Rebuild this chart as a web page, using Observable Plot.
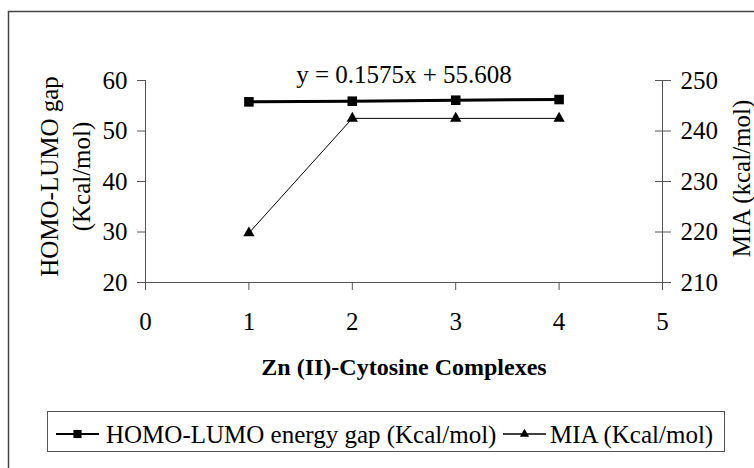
<!DOCTYPE html>
<html><head><meta charset="utf-8">
<script src="https://cdn.jsdelivr.net/npm/d3@7"></script>
<script src="https://cdn.jsdelivr.net/npm/@observablehq/plot@0.6"></script>
<style>
html,body{margin:0;padding:0;background:#fff;}
#chart{width:754px;height:468px;overflow:hidden;}
</style>
</head><body><div id="chart"></div>
<script>
// ---- data ----
const complexes = [1, 2, 3, 4];
const homoLumoGap = [55.77, 55.90, 56.10, 56.23];
const mia = [219.8, 242.5, 242.5, 242.5];
const leftTicks = [20, 30, 40, 50, 60];
const rightTicks = [210, 220, 230, 240, 250];
const xTicks = [0, 1, 2, 3, 4, 5];
const seriesNames = ["HOMO-LUMO energy gap (Kcal/mol)", "MIA (Kcal/mol)"];
const equation = ["y = 0.1575x + 55.608"];
const xTitle = ["Zn (II)-Cytosine Complexes"];
const yTitle = ["HOMO-LUMO gap\n(Kcal/mol)"];
const y2Title = ["MIA (kcal/mol)"];
const miaOffset = 190; // right axis 210–250 aligned with left axis 20–60

const homoData = complexes.map((x, i) => ({x, v: homoLumoGap[i]}));
const miaData = complexes.map((x, i) => ({x, v: mia[i] - miaOffset}));

const FONT = "'Liberation Serif', 'Times New Roman', serif";
const AX = "#555";

const svg = Plot.plot({
  width: 754, height: 468,
  marginLeft: 145, marginRight: 92, marginTop: 80, marginBottom: 186,
  x: {domain: [0, 5]},
  y: {domain: [20, 60]},
  style: {fontFamily: FONT, fontSize: "25px", color: "black", background: "white"},
  marks: [
    Plot.ruleY([20], {x1: 0, x2: 5, stroke: AX}),
    Plot.ruleX([0], {y1: 20, y2: 60, stroke: AX}),
    Plot.ruleX([5], {y1: 20, y2: 60, stroke: AX}),
    Plot.axisY(leftTicks, {anchor: "left", tickSize: 8, tickPadding: 10, stroke: AX, fill: "black", fontSize: 25, label: null}),
    Plot.axisY(rightTicks.map(d => d - miaOffset), {anchor: "right", tickSize: 16, dx: -8, tickPadding: 10,
      tickFormat: d => d + miaOffset, stroke: AX, fill: "black", fontSize: 25, label: null}),
    Plot.axisX(xTicks, {anchor: "bottom", tickSize: 8, tickPadding: 22, stroke: AX, fill: "black", fontSize: 25, label: null}),
    Plot.line(miaData, {x: "x", y: "v", stroke: "black", strokeWidth: 1}),
    Plot.dot(miaData, {x: "x", y: "v", symbol: "triangle", r: 4.2, fill: "black", stroke: "none"}),
    Plot.line(homoData, {x: "x", y: "v", stroke: "black", strokeWidth: 3}),
    Plot.dot(homoData, {x: "x", y: "v", symbol: "square", r: 5.4, fill: "black", stroke: "none"}),
    Plot.text(equation, {frameAnchor: "top", lineAnchor: "middle", textAnchor: "middle", dy: -6, fontSize: 25, fill: "black"}),
    Plot.text(xTitle, {frameAnchor: "bottom", lineAnchor: "middle", textAnchor: "middle", dy: 85, fontSize: 24, fontWeight: "bold", fill: "black"}),
    Plot.text(yTitle, {frameAnchor: "left", lineAnchor: "middle", textAnchor: "middle", rotate: -90, dx: -82, dy: -5, lineHeight: 1.28, fontSize: 25, fill: "black"}),
    Plot.text(y2Title, {frameAnchor: "right", lineAnchor: "middle", textAnchor: "middle", rotate: -90, dx: 79, dy: -3, fontSize: 25, fill: "black"})
  ]
});

const s = d3.select(svg);
// outer chart border (only top and left visible)
s.insert("rect", "g").attr("x", 8.5).attr("y", 11.5).attr("width", 800).attr("height", 500)
  .attr("fill", "none").attr("stroke", "#444").attr("stroke-width", 1.5);

// legend
const lg = s.append("g").attr("font-family", FONT).attr("font-size", 25).attr("text-anchor", "start");
lg.append("rect").attr("x", 47.5).attr("y", 411.5).attr("width", 677).attr("height", 40)
  .attr("fill", "white").attr("stroke", AX);
const legendItems = [
  {name: seriesNames[0], x0: 56, tx: 106, sym: d3.symbolSquare, size: Math.PI * 4.6 * 4.6, sw: 2},
  {name: seriesNames[1], x0: 503, tx: 550, sym: d3.symbolTriangle2, size: Math.PI * 4.4 * 4.4, sw: 1.5}
];
const ly = 434;
for (const it of legendItems) {
  lg.append("line").attr("x1", it.x0).attr("x2", it.x0 + 43).attr("y1", ly).attr("y2", ly)
    .attr("stroke", "black").attr("stroke-width", it.sw);
  lg.append("path").attr("d", d3.symbol(it.sym, it.size)()).attr("transform", `translate(${it.x0 + 21.5},${ly})`)
    .attr("fill", "black");
  lg.append("text").attr("x", it.tx).attr("y", 443).attr("fill", "black").attr("text-anchor", "start").text(it.name);
}

document.getElementById("chart").appendChild(svg);
</script>
</body></html>
